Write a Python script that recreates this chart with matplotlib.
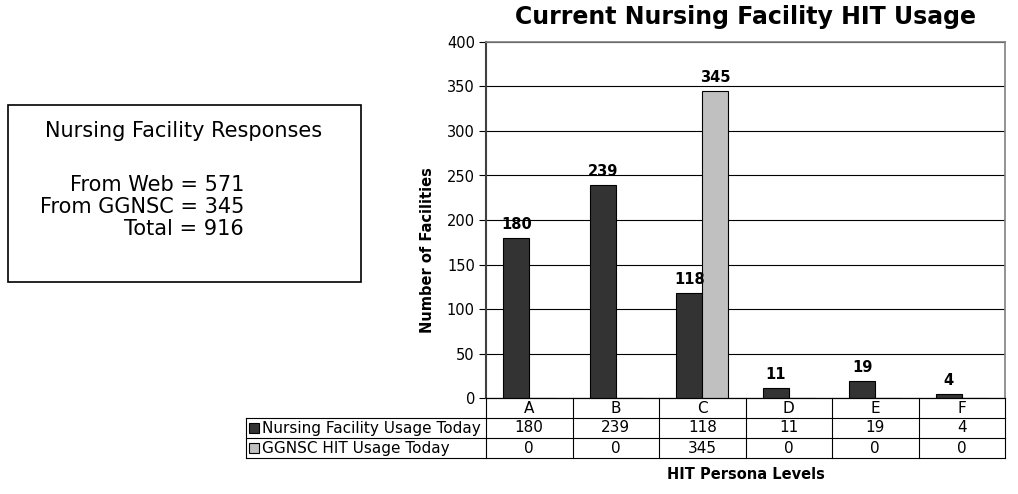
import matplotlib.pyplot as plt
import numpy as np
from matplotlib.patches import Rectangle

# data
levels = ["A", "B", "C", "D", "E", "F"]
nursing_usage = [180, 239, 118, 11, 19, 4]
ggnsc_usage = [0, 0, 345, 0, 0, 0]
series_names = ["Nursing Facility Usage Today", "GGNSC HIT Usage Today"]
responses = [("From Web", 571), ("From GGNSC", 345), ("Total", 916)]

dark = "#333333"
light = "#C0C0C0"

plt.rcParams["font.family"] = "DejaVu Sans"

fig = plt.figure(figsize=(10.18, 4.94), dpi=100)
W, H = 1018, 494


def fx(px):
    return px / W


def fy(py):
    return 1 - py / H


ax_l, ax_r, ax_t, ax_b = 486, 1005, 42, 398
ax = fig.add_axes([fx(ax_l), fy(ax_b), fx(ax_r - ax_l), (ax_b - ax_t) / H])

x = np.arange(len(levels))
bw = 0.3
ax.bar(x - bw / 2, nursing_usage, bw, color=dark, edgecolor="black", linewidth=0.8, zorder=3)
ax.bar(x + bw / 2, ggnsc_usage, bw, color=light, edgecolor="black", linewidth=0.8, zorder=3)

# bold value labels over the non-zero bars
for xi, v in zip(x, nursing_usage):
    if v:
        ax.text(xi - bw / 2, v + 7, str(v), ha="center", va="bottom",
                fontsize=10.5, fontweight="bold")
for xi, v in zip(x, ggnsc_usage):
    if v:
        ax.text(xi + bw / 2, v + 7, str(v), ha="center", va="bottom",
                fontsize=10.5, fontweight="bold")

ax.set_xlim(-0.5, len(levels) - 0.5)
ax.set_ylim(0, 400)
ax.set_yticks(np.arange(0, 401, 50))
ax.tick_params(axis="y", labelsize=10.5, length=5, width=0.8, colors="black", pad=3)
ax.set_xticks([])
ax.yaxis.grid(True, color="black", linewidth=0.8, zorder=0)
ax.set_axisbelow(True)
ax.spines["left"].set_color("#404040")
ax.spines["left"].set_linewidth(1.5)
for s in ["top", "right"]:
    ax.spines[s].set_color("#808080")
    ax.spines[s].set_linewidth(1.2)
ax.spines["bottom"].set_color("black")
ax.spines["bottom"].set_linewidth(0.8)

# axis titles are centred on the plot area including the table
fig.text(fx(428), fy(250), "Number of Facilities", rotation=90, ha="center", va="center",
         fontsize=10.5, fontweight="bold")
fig.text(fx((ax_l + ax_r) / 2), fy(17), "Current Nursing Facility HIT Usage",
         ha="center", va="center", fontsize=17, fontweight="bold")

# data table under the plot, drawn in figure pixels
col_w = (ax_r - ax_l) / len(levels)
row_y = [398, 418, 438, 458]
tbl_left = 246
lk = dict(color="black", linewidth=0.8, transform=fig.transFigure)

# horizontal lines
fig.add_artist(plt.Line2D([fx(ax_l), fx(ax_r)], [fy(row_y[0])] * 2, **lk))
for yy in row_y[1:]:
    fig.add_artist(plt.Line2D([fx(tbl_left), fx(ax_r)], [fy(yy)] * 2, **lk))
# vertical lines
for i in range(len(levels) + 1):
    xx = ax_l + i * col_w
    fig.add_artist(plt.Line2D([fx(xx)] * 2, [fy(row_y[0]), fy(row_y[-1])], **lk))
fig.add_artist(plt.Line2D([fx(tbl_left)] * 2, [fy(row_y[1]), fy(row_y[-1])], **lk))

for i, lab in enumerate(levels):
    cx = ax_l + (i + 0.5) * col_w
    fig.text(fx(cx), fy((row_y[0] + row_y[1]) / 2), lab, ha="center", va="center", fontsize=11)
    fig.text(fx(cx), fy((row_y[1] + row_y[2]) / 2), str(nursing_usage[i]),
             ha="center", va="center", fontsize=11)
    fig.text(fx(cx), fy((row_y[2] + row_y[3]) / 2), str(ggnsc_usage[i]),
             ha="center", va="center", fontsize=11)

for r, (name, col) in enumerate(zip(series_names, [dark, light])):
    cy = (row_y[r + 1] + row_y[r + 2]) / 2
    fig.add_artist(Rectangle((fx(249), fy(cy + 5)), fx(10), 10 / H, facecolor=col,
                             edgecolor="black", linewidth=0.8, transform=fig.transFigure))
    fig.text(fx(262), fy(cy), name, ha="left", va="center", fontsize=11)

fig.text(fx((ax_l + ax_r) / 2), fy(474), "HIT Persona Levels", ha="center", va="center",
         fontsize=10.5, fontweight="bold")

# responses box
fig.add_artist(Rectangle((fx(8), fy(282)), fx(353), (282 - 105) / H, facecolor="white",
                         edgecolor="black", linewidth=1.2, transform=fig.transFigure))
fig.text(fx(184), fy(131), "Nursing Facility Responses", ha="center", va="center", fontsize=15)
for k, (name, val) in enumerate(responses):
    fig.text(fx(244), fy(185 + 22 * k), f"{name} = {val}", ha="right", va="center", fontsize=15)

fig.savefig("out.png", dpi=100)
